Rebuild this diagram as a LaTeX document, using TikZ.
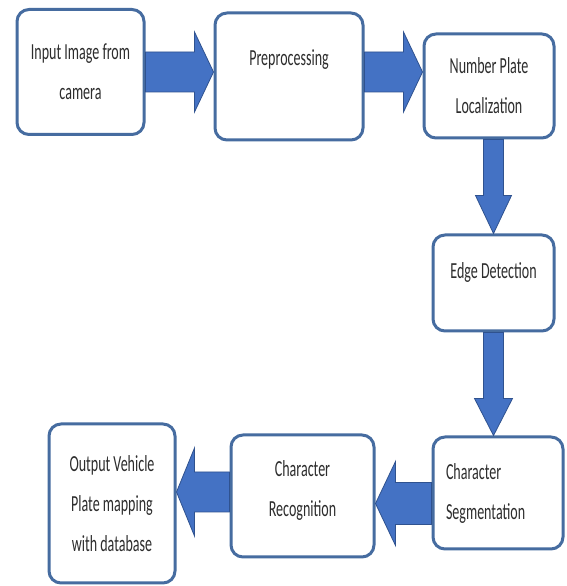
\documentclass[tikz,border=0pt]{standalone}
\usepackage{fontspec}
\setmainfont{Carlito}[FakeStretch=0.61]
\usetikzlibrary{calc}

\definecolor{boxedge}{RGB}{70,108,160}
\definecolor{arrowfill}{RGB}{68,114,196}
\definecolor{arrowedge}{RGB}{47,82,143}
\definecolor{labeltext}{RGB}{45,45,45}

\begin{document}
\begin{tikzpicture}[x=1pt,y=1pt,
  box/.style={draw=boxedge,line width=3pt,rounded corners=12pt,fill=white,
    align=center,text=labeltext,font=\fontsize{23}{40}\selectfont,inner sep=2pt},
  flow/.style n args={3}{draw=arrowedge,fill=arrowfill,line width=0.8pt,
    to path={
      ($(\tikztostart)!#1!90:(\tikztotarget)$)
      -- ($(\tikztotarget)!#3!(\tikztostart)!#1!-90:(\tikztostart)$)
      -- ($(\tikztotarget)!#3!(\tikztostart)!#2!-90:(\tikztostart)$)
      -- (\tikztotarget)
      -- ($(\tikztotarget)!#3!(\tikztostart)!#2!90:(\tikztostart)$)
      -- ($(\tikztotarget)!#3!(\tikztostart)!#1!90:(\tikztostart)$)
      -- ($(\tikztostart)!#1!-90:(\tikztotarget)$) -- cycle}}]

  \fill[white] (0,0) rectangle (566,586);
  \useasboundingbox (0,0) rectangle (566,586);

  % boxes
  \node[box,minimum width=127pt,minimum height=125pt] (cam) at (80.5,514) {Input Image from\\camera};
  \node[box,minimum width=148pt,minimum height=127pt,text depth=38pt] (pre) at (289,509.5) {Preprocessing};
  \node[box,minimum width=130pt,minimum height=104pt] (npl) at (489,500) {Number Plate\\Localization};
  \node[box,minimum width=121pt,minimum height=96pt,text depth=25pt] (edt) at (493.5,303) {Edge Detection};
  \node[box,minimum width=130pt,minimum height=112pt,text width=104pt,align=left] (seg) at (498,93) {Character\\Segmentation};
  \node[box,minimum width=143pt,minimum height=122pt,text depth=15pt] (rec) at (302.5,90) {Character\\Recognition};
  \node[box,minimum width=126pt,minimum height=159pt] (res) at (112,82.5) {Output Vehicle\\Plate mapping\\with database};

  % block arrows
  \coordinate (c3) at ([yshift=-10.5pt]seg.west);
  \coordinate (c4) at ([yshift=4pt]rec.west);

  \draw[flow={20pt}{40pt}{19pt}] (cam.east) to (cam.east -| pre.west);
  \draw[flow={20pt}{40pt}{19pt}] (pre.east |- cam.east) to (cam.east -| npl.west);
  \draw[flow={10pt}{18pt}{38pt}] (npl.south -| edt.north) to (edt.north);
  \draw[flow={10pt}{19pt}{37pt}] (edt.south) to (edt.south |- seg.north);
  \draw[flow={21pt}{42pt}{20pt}] (c3) to (c3 -| rec.east);
  \draw[flow={20pt}{44pt}{18pt}] (c4) to (c4 -| res.east);
\end{tikzpicture}
\end{document}
